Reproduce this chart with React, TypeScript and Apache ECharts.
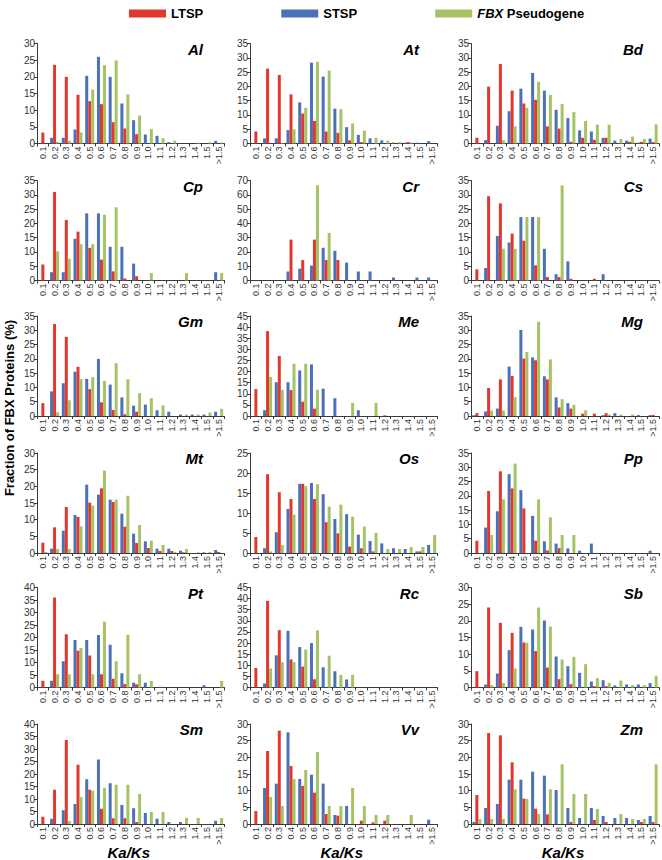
import React, { useEffect, useRef } from 'react';
import * as echarts from 'echarts';

const categories = ['0.1', '0.2', '0.3', '0.4', '0.5', '0.6', '0.7', '0.8', '0.9', '1.0', '1.1', '1.2', '1.3', '1.4', '1.5', '>1.5'];
const speciesNames = ['Al', 'At', 'Bd', 'Cp', 'Cr', 'Cs', 'Gm', 'Me', 'Mg', 'Mt', 'Os', 'Pp', 'Pt', 'Rc', 'Sb', 'Sm', 'Vv', 'Zm'];
const yMaxes = [30, 35, 35, 35, 70, 35, 35, 45, 35, 30, 25, 35, 40, 45, 30, 40, 30, 30];
const yIntervals = [5, 5, 5, 5, 10, 5, 5, 5, 5, 5, 5, 5, 5, 5, 5, 5, 5, 5];

const alLTSP = [3.3, 23.6, 20, 14.6, 12.7, 11.8, 6.4, 4.5, 2.8, 0, 0, 0, 0, 0, 0, 0];
const alSTSP = [0, 1.7, 1.7, 4.2, 20.3, 26, 20, 12, 7, 2.7, 2.3, 0.4, 0, 0, 0, 0.8];
const alFBX = [0, 0.5, 0.8, 3.3, 16.2, 23.5, 24.9, 14.7, 8.4, 4.3, 1.6, 0.8, 0, 0.2, 0.3, 0.3];

const atLTSP = [4.2, 26.2, 24, 17.2, 10.5, 7.9, 4.2, 3.7, 1.1, 0.5, 0, 0, 0, 0.5, 0, 0];
const atSTSP = [0, 1.8, 1.8, 4.7, 14.4, 28.3, 23.4, 12.2, 5.7, 3, 1.8, 1.1, 0.3, 0.3, 0.3, 0.8];
const atFBX = [0, 0, 0.3, 5, 12.5, 28.6, 25.5, 12, 7, 4.5, 2, 1, 0.5, 0.3, 0, 0];

const bdLTSP = [2, 19.9, 27.8, 18.5, 14, 15.3, 6, 5.2, 0.6, 2, 1.3, 2, 0, 0.6, 0.6, 0.5];
const bdSTSP = [0, 1.2, 6.2, 11.3, 19.2, 24.7, 18.5, 11.8, 8.9, 4.6, 4.2, 2, 1, 1, 0.3, 1.7];
const bdFBX = [0, 0, 1.2, 6, 12.5, 21.6, 17, 13.8, 11, 7.9, 6.6, 6.6, 1.6, 2.4, 1.6, 6.7];

const cpLTSP = [5.6, 31, 21.2, 17.1, 11.4, 7.3, 3.2, 0.7, 1.5, 0, 0, 0, 0, 0, 0, 0];
const cpSTSP = [0, 2.9, 2.9, 14.6, 23.5, 23.5, 11.8, 11.8, 5.9, 0, 0, 0, 0, 0, 0, 2.9];
const cpFBX = [0, 10.2, 7.6, 12.7, 12.7, 23, 25.6, 0, 0, 2.6, 0, 0, 2.6, 0, 0, 2.6];

const crLTSP = [0, 0, 0, 28.6, 14.3, 28.6, 14.3, 14.3, 0, 0, 0, 0, 0, 0, 0, 0];
const crSTSP = [0, 0, 0, 6.3, 8.3, 10.4, 22.9, 20.8, 12.5, 6.3, 6.3, 0, 2.1, 0, 2.1, 2.1];
const crFBX = [0, 0, 0, 0, 0, 66.7, 33.3, 0, 0, 0, 0, 0, 0, 0, 0, 0];

const csLTSP = [3.9, 29.5, 27, 16.4, 13.9, 5.3, 1.2, 1.2, 0.6, 0, 0.6, 0, 0, 0, 0, 0];
const csSTSP = [0, 4.4, 15.6, 13.3, 22.2, 22.2, 11.1, 2.2, 6.7, 0, 0, 2.2, 0, 0, 0, 0];
const csFBX = [0, 0, 11.1, 11.1, 22.2, 22.2, 0, 33.3, 0, 0, 0, 0, 0, 0, 0, 0];

const gmLTSP = [4.5, 32.2, 27.7, 17.2, 9.4, 4.8, 2.1, 0.6, 1.5, 0, 0, 0, 0, 0, 0, 0];
const gmSTSP = [0, 8.6, 11.5, 15.5, 13, 20, 11, 6.5, 3.6, 4, 2, 1.5, 0.5, 0.5, 0.5, 1.5];
const gmFBX = [0, 1.3, 5.5, 12.9, 13.6, 12.3, 18.5, 12.9, 8, 6.2, 3.7, 0, 0.5, 0.5, 1.2, 2.5];

const meLTSP = [12.1, 38.2, 27, 11.7, 6.4, 3.3, 0, 0, 0, 0, 0, 0.3, 0, 0, 0, 0];
const meSTSP = [0, 2.6, 15.2, 15.2, 20.5, 23.2, 12.3, 8, 0, 2.6, 0, 0, 0, 0, 0, 0];
const meFBX = [0, 17.6, 11.8, 23.5, 23.5, 11.8, 0, 0, 5.9, 0, 5.9, 0, 0, 0, 0, 0];

const mgLTSP = [1, 9.8, 12.8, 14, 20.1, 19.5, 12.8, 3, 2.6, 0.8, 0.8, 1, 0, 0, 0, 0.4];
const mgSTSP = [0.3, 1.6, 2.6, 17.3, 30.1, 20.5, 13.9, 6.5, 4.5, 0, 0, 0.3, 1, 0, 0.3, 0.3];
const mgFBX = [0, 1.9, 1.9, 6.6, 22.4, 33, 19.8, 5.9, 3.9, 2, 0, 0.5, 0.5, 0.5, 0, 0];

const mtLTSP = [3.1, 7.7, 13.8, 10.8, 15.1, 19.4, 15.3, 7.9, 3, 1.5, 0.6, 0.6, 0.2, 0, 0, 0.3];
const mtSTSP = [0, 1.3, 6.7, 11.4, 20.5, 17.5, 16, 11.8, 5.8, 3.5, 1.3, 1.3, 0.7, 0, 0.2, 0.9];
const mtFBX = [0.3, 1.2, 1.2, 8, 14.2, 24.7, 16, 17.2, 8.4, 3.7, 2.4, 0.3, 1.2, 0.2, 0.3, 0];

const osLTSP = [4, 19.7, 15.2, 13.5, 17.3, 13.5, 7.7, 4.9, 1.6, 1.2, 0.4, 0, 0, 0, 0.4, 0];
const osSTSP = [0, 1.2, 5.2, 11, 17.3, 17.5, 14.7, 8.5, 9.7, 4.6, 3, 2.4, 1.2, 1, 0.4, 2];
const osFBX = [0, 0.4, 2, 9.6, 16.7, 17.2, 11.6, 12.1, 9.1, 6.6, 5, 1, 1, 1.5, 1.5, 4.5];

const ppLTSP = [4.3, 21.7, 28.6, 22.6, 15.6, 4.3, 0.9, 1.7, 0, 0, 0, 0, 0, 0, 0, 0];
const ppSTSP = [0, 8.9, 14.6, 27.6, 22, 13, 4.1, 3.3, 1.6, 0.8, 3.3, 0, 0, 0, 0, 0.8];
const ppFBX = [0, 6.3, 18.8, 31.3, 0, 18.8, 12.5, 6.3, 6.3, 0, 0, 0, 0, 0, 0, 0];

const ptLTSP = [2.7, 36, 21.3, 14.7, 12.8, 5.3, 3.5, 1.4, 1.3, 0, 0.3, 0, 0, 0, 0, 0];
const ptSTSP = [0, 2.7, 10.5, 19, 19, 21, 17.1, 5.7, 1.9, 1.9, 0, 0, 0, 0, 0.9, 0];
const ptFBX = [0, 5.3, 5.3, 15.8, 5.3, 26.3, 10.5, 21.1, 5.3, 2.6, 0, 0, 0, 0, 0, 2.6];

const rcLTSP = [8.8, 39, 25.8, 12.6, 9.4, 3.7, 0, 0, 0, 0, 0, 0, 0, 0, 0, 0];
const rcSTSP = [0, 1.8, 14.5, 25.5, 18.2, 20, 9.1, 7.3, 3.6, 0, 0, 0, 0, 0, 0, 0];
const rcFBX = [0, 8.6, 11.4, 11.4, 17.1, 25.7, 14.3, 5.7, 5.7, 0, 0, 0, 0, 0, 0, 0];

const sbLTSP = [4.9, 24, 19.4, 16.4, 13.5, 10.9, 6, 2.5, 1, 0, 0.4, 0.4, 0, 0, 0, 0];
const sbSTSP = [0, 0.9, 4.2, 11.2, 18.2, 17.4, 20.1, 9.3, 6.4, 4.4, 1.8, 2.2, 0.6, 0.9, 0.9, 1.3];
const sbFBX = [0, 0.7, 1.4, 5.7, 13.4, 24, 18.3, 8.4, 9.2, 7, 2.8, 1.4, 2.1, 0.7, 0.7, 3.5];

const smLTSP = [2.9, 13.7, 33.6, 23.7, 13.7, 6.1, 2.3, 2.3, 0.8, 0, 0, 0, 0, 0, 0, 0];
const smSTSP = [0, 2.1, 5.5, 8, 17.9, 25.8, 16.3, 7.6, 6.3, 4.4, 2.1, 0.8, 0.8, 0, 0, 1.3];
const smFBX = [0, 0, 1.2, 10.8, 13.3, 14.5, 15.7, 15.7, 12, 4.8, 4.8, 0, 2.4, 2.4, 0, 2.4];

const vvLTSP = [3.9, 21.9, 28, 17.4, 11.4, 9.4, 3, 2.5, 0, 1, 0.5, 1, 0, 0, 0, 0];
const vvSTSP = [0, 10.8, 12.1, 27.5, 13.5, 14.8, 12.1, 2.7, 5.4, 0, 0, 0, 0, 0, 0, 1.3];
const vvFBX = [0, 8.1, 5.4, 13.5, 16.2, 21.6, 5.4, 5.4, 10.8, 5.4, 2.7, 2.7, 0, 2.7, 0, 0];

const zmLTSP = [8.7, 27.3, 26.6, 18.5, 7.6, 4.6, 2.9, 0, 0.6, 0, 1.2, 0.6, 0, 0, 0.6, 0.6];
const zmSTSP = [0.6, 4.8, 6, 13.3, 13.3, 15.7, 14.5, 10.2, 4.8, 1.8, 4.8, 2.4, 1.8, 1.8, 1.2, 2.4];
const zmFBX = [1.5, 1.5, 1.5, 10.4, 7.5, 3, 10.4, 17.9, 9, 9, 4.5, 0, 3, 1.5, 1.5, 17.9];

const ltspData = [alLTSP, atLTSP, bdLTSP, cpLTSP, crLTSP, csLTSP, gmLTSP, meLTSP, mgLTSP, mtLTSP, osLTSP, ppLTSP, ptLTSP, rcLTSP, sbLTSP, smLTSP, vvLTSP, zmLTSP];
const stspData = [alSTSP, atSTSP, bdSTSP, cpSTSP, crSTSP, csSTSP, gmSTSP, meSTSP, mgSTSP, mtSTSP, osSTSP, ppSTSP, ptSTSP, rcSTSP, sbSTSP, smSTSP, vvSTSP, zmSTSP];
const fbxData = [alFBX, atFBX, bdFBX, cpFBX, crFBX, csFBX, gmFBX, meFBX, mgFBX, mtFBX, osFBX, ppFBX, ptFBX, rcFBX, sbFBX, smFBX, vvFBX, zmFBX];

const RED = '#e2372c';
const BLUE = '#4b71b8';
const GREEN = '#a5c264';
const FONT = '"Liberation Sans", Arial, sans-serif';

const colLeft = [37, 250, 471];
const colWidth = [187.5, 187.5, 188];
const rowTop = [43.5, 180.5, 316, 453, 587.5, 724];
const plotHeight = 100;
const titleRight = [203, 419, 643];

function buildOption() {
  const grid: any[] = [];
  const xAxis: any[] = [];
  const yAxis: any[] = [];
  const series: any[] = [];
  const graphic: any[] = [];
  speciesNames.forEach((name, i) => {
    const row = Math.floor(i / 3);
    const col = i % 3;
    grid.push({ left: colLeft[col], top: rowTop[row], width: colWidth[col], height: plotHeight, outerBoundsMode: 'none', containLabel: false });
    xAxis.push({
      type: 'category', gridIndex: i, data: categories,
      axisLine: { lineStyle: { color: '#3a3a3a', width: 1 } },
      axisTick: { show: true, length: 3, lineStyle: { color: '#3a3a3a' } },
      axisLabel: { interval: 0, rotate: 90, fontSize: 9, color: '#333', margin: 3, fontFamily: FONT },
    });
    yAxis.push({
      type: 'value', gridIndex: i, min: 0, max: yMaxes[i], interval: yIntervals[i],
      splitLine: { show: false },
      axisLine: { show: true, lineStyle: { color: '#3a3a3a', width: 1 } },
      axisTick: { show: true, length: 3, lineStyle: { color: '#3a3a3a' } },
      axisLabel: { fontSize: 10, color: '#333', margin: 2, fontFamily: FONT },
    });
    const common = { type: 'bar', xAxisIndex: i, yAxisIndex: i, barWidth: 3, barGap: '0%', silent: true };
    series.push({ ...common, name: 'STSP', data: stspData[i], itemStyle: { color: BLUE } });
    series.push({ ...common, name: 'LTSP', data: ltspData[i], itemStyle: { color: RED } });
    series.push({ ...common, name: 'FBX Pseudogene', data: fbxData[i], itemStyle: { color: GREEN } });
    graphic.push({
      type: 'text', x: titleRight[col], y: rowTop[row] - 2,
      style: { text: name, fontSize: 15, fontWeight: 'bold', fontStyle: 'italic', fontFamily: FONT, fill: '#000', align: 'right', verticalAlign: 'top' },
    });
  });
  [0, 1, 2].forEach((col) => {
    graphic.push({
      type: 'text', x: colLeft[col] + colWidth[col] / 2 - 2, y: 852,
      style: { text: 'Ka/Ks', fontSize: 15, fontWeight: 'bold', fontStyle: 'italic', fontFamily: FONT, fill: '#000', align: 'center', verticalAlign: 'middle' },
    });
  });
  graphic.push({
    type: 'text', x: 9, y: 408, rotation: Math.PI / 2,
    style: { text: 'Fraction of FBX Proteins (%)', fontSize: 13, fontWeight: 'bold', fontFamily: FONT, fill: '#000', align: 'center', verticalAlign: 'middle' },
  });
  return {
    animation: false,
    backgroundColor: '#fff',
    legend: {
      data: ['LTSP', 'STSP', 'FBX Pseudogene'],
      left: 124, top: 2,
      itemWidth: 37, itemHeight: 8, itemGap: 78,
      icon: 'rect',
      selectedMode: false,
      textStyle: {
        fontSize: 13, fontWeight: 'bold', color: '#000', fontFamily: FONT,
        rich: { i: { fontSize: 13, fontWeight: 'bold', fontStyle: 'italic', color: '#000', fontFamily: FONT } },
      },
      formatter: (n: string) => (n === 'FBX Pseudogene' ? '{i|FBX} Pseudogene' : n),
    },
    grid, xAxis, yAxis, series, graphic,
  };
}

export default function App() {
  const ref = useRef<HTMLDivElement>(null);
  useEffect(() => {
    if (!ref.current) return;
    const chart = echarts.init(ref.current, undefined, { renderer: 'svg' });
    chart.setOption(buildOption() as any);
    return () => chart.dispose();
  }, []);
  return <div ref={ref} style={{ position: 'fixed', left: 0, top: 0, width: 662, height: 860, background: '#fff' }} />;
}
